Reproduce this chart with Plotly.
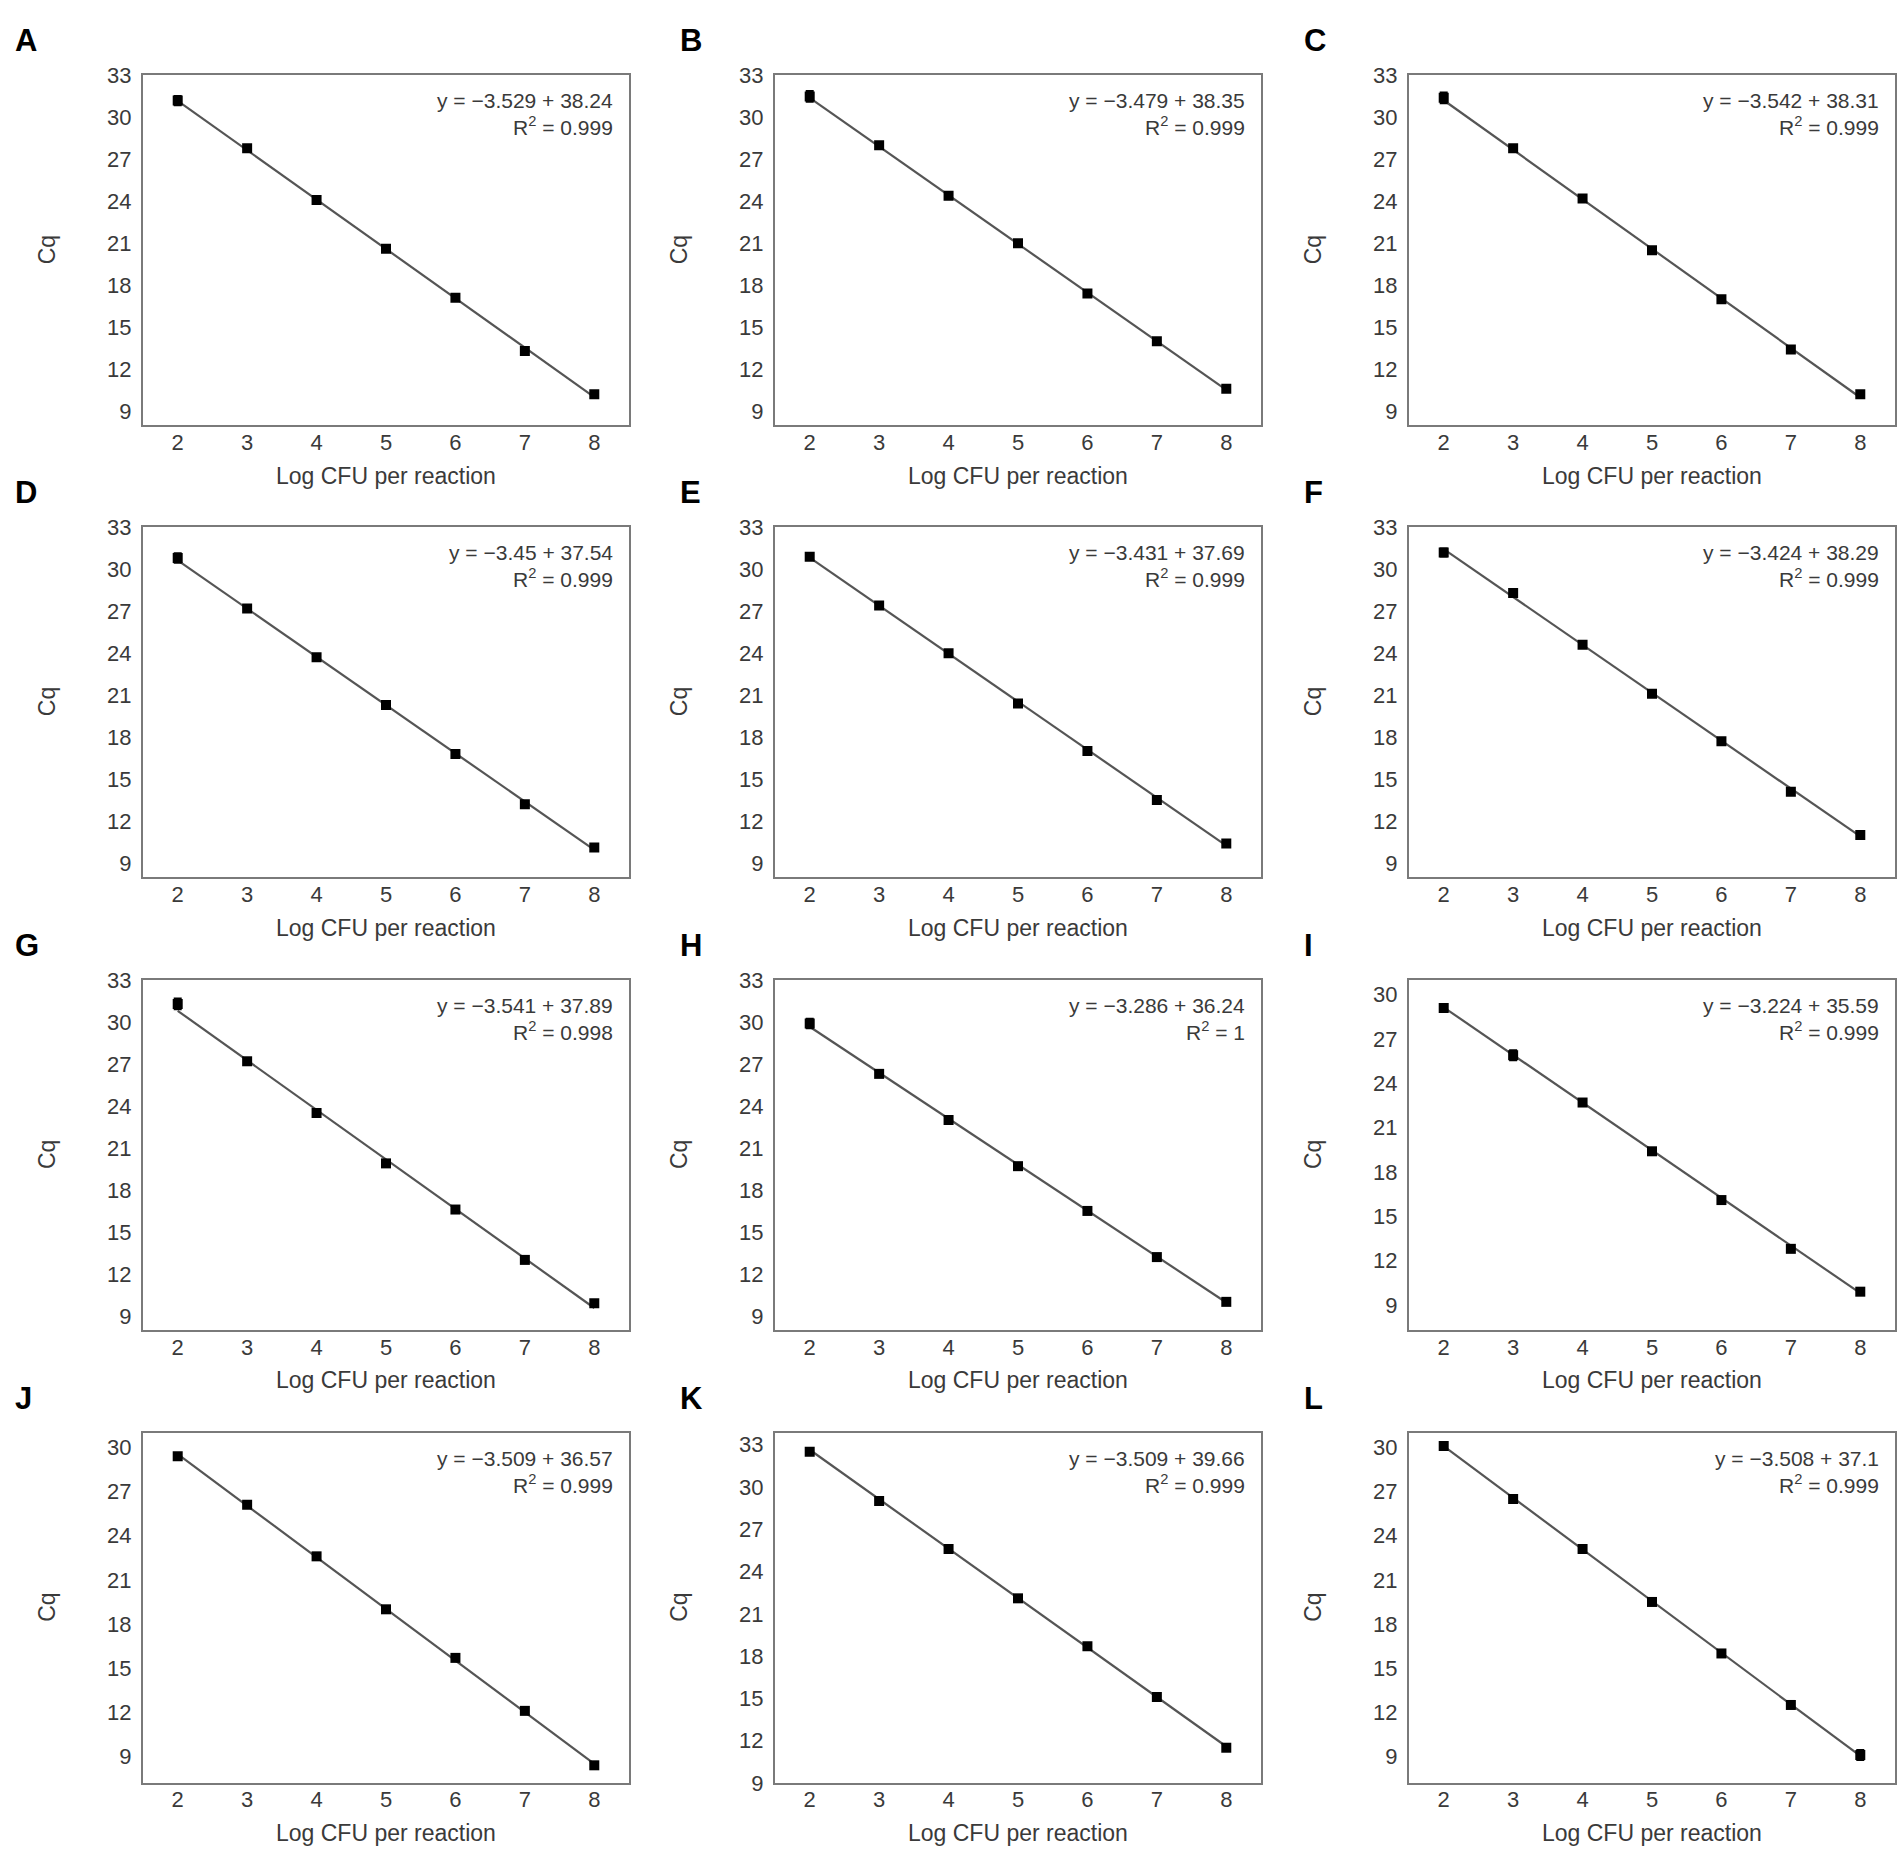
import plotly.graph_objects as go

W, H = 1904, 1867

# ---- data ----
log_cfu = [2, 3, 4, 5, 6, 7, 8]
panels = ["A", "B", "C", "D", "E", "F", "G", "H", "I", "J", "K", "L"]

cq_A = [31.2, 27.8, 24.1, 20.6, 17.1, 13.3, 10.2]
cq_B = [31.5, 28.0, 24.4, 21.0, 17.4, 14.0, 10.6]
cq_C = [31.4, 27.8, 24.2, 20.5, 17.0, 13.4, 10.2]
cq_D = [30.8, 27.2, 23.7, 20.3, 16.8, 13.2, 10.1]
cq_E = [30.9, 27.4, 24.0, 20.4, 17.0, 13.5, 10.4]
cq_F = [31.2, 28.3, 24.6, 21.1, 17.7, 14.1, 11.0]
cq_G = [31.3, 27.2, 23.5, 19.9, 16.6, 13.0, 9.9]
cq_H = [29.9, 26.3, 23.0, 19.7, 16.5, 13.2, 10.0]
cq_I = [29.1, 25.9, 22.7, 19.4, 16.1, 12.8, 9.9]
cq_J = [29.4, 26.1, 22.6, 19.0, 15.7, 12.1, 8.4]
cq_K = [32.5, 29.0, 25.6, 22.1, 18.7, 15.1, 11.5]
cq_L = [30.1, 26.5, 23.1, 19.5, 16.0, 12.5, 9.1]

sd_A = [0.3, 0.1, 0.1, 0.1, 0.1, 0.15, 0.1]
sd_B = [0.35, 0.1, 0.1, 0.1, 0.1, 0.1, 0.1]
sd_C = [0.35, 0.1, 0.1, 0.1, 0.1, 0.1, 0.1]
sd_D = [0.3, 0.1, 0.1, 0.1, 0.1, 0.1, 0.1]
sd_E = [0.1, 0.1, 0.1, 0.1, 0.1, 0.1, 0.1]
sd_F = [0.25, 0.15, 0.1, 0.1, 0.1, 0.1, 0.1]
sd_G = [0.35, 0.1, 0.1, 0.1, 0.1, 0.1, 0.1]
sd_H = [0.3, 0.1, 0.1, 0.1, 0.1, 0.1, 0.1]
sd_I = [0.1, 0.3, 0.1, 0.1, 0.1, 0.1, 0.1]
sd_J = [0.1, 0.1, 0.1, 0.1, 0.1, 0.1, 0.1]
sd_K = [0.1, 0.1, 0.1, 0.1, 0.1, 0.1, 0.1]
sd_L = [0.1, 0.1, 0.1, 0.1, 0.1, 0.1, 0.3]

cq_values = [cq_A, cq_B, cq_C, cq_D, cq_E, cq_F, cq_G, cq_H, cq_I, cq_J, cq_K, cq_L]
cq_sd = [sd_A, sd_B, sd_C, sd_D, sd_E, sd_F, sd_G, sd_H, sd_I, sd_J, sd_K, sd_L]

slopes = [-3.529, -3.479, -3.542, -3.45, -3.431, -3.424,
          -3.541, -3.286, -3.224, -3.509, -3.509, -3.508]
intercepts = [38.24, 38.35, 38.31, 37.54, 37.69, 38.29,
              37.89, 36.24, 35.59, 36.57, 39.66, 37.1]
r2 = ["0.999", "0.999", "0.999", "0.999", "0.999", "0.999",
      "0.998", "1", "0.999", "0.999", "0.999", "0.999"]

y_ranges = [[7.98, 33.02]] * 8 + [[7.3, 31.0], [7.2, 31.0], [9.0, 33.85], [7.2, 31.0]]

# ---- layout in pixels ----
col_left = [143, 775, 1409]
col_w = 486
row_top = [64, 522, 981, 1440]
row_h = 355
letter_x = [13, 678, 1302]

font_name = "Liberation Sans, Arial, sans-serif"
grey_txt = "#3a3a3a"


def px_x(x):
    return x / W


def px_y(y):
    return 1 - y / H


fig = go.Figure()
annotations = []

for i, name in enumerate(panels):
    r, c = divmod(i, 3)
    n = "" if i == 0 else str(i + 1)
    x0, x1 = col_left[c], col_left[c] + col_w
    y0, y1 = row_top[r], row_top[r] + row_h

    fit_x = [log_cfu[0], log_cfu[-1]]
    fit_y = [slopes[i] * v + intercepts[i] for v in fit_x]

    fig.add_trace(go.Scatter(
        x=fit_x, y=fit_y, mode="lines",
        line=dict(color="#555555", width=2.2),
        xaxis="x" + n, yaxis="y" + n, showlegend=False, hoverinfo="skip"))
    fig.add_trace(go.Scatter(
        x=log_cfu, y=cq_values[i], mode="markers",
        marker=dict(symbol="square", size=10, color="black"),
        error_y=dict(type="data", array=cq_sd[i], color="black",
                     thickness=3, width=4),
        xaxis="x" + n, yaxis="y" + n, showlegend=False))

    axis_common = dict(
        showline=True, mirror=True, linecolor="#7a7a7a", linewidth=2,
        showgrid=False, zeroline=False, ticks="",
        tickfont=dict(family=font_name, size=22, color=grey_txt))
    fig.update_layout({
        "xaxis" + n: dict(axis_common, domain=[px_x(x0), px_x(x1)],
                          range=[1.5, 8.5], tickmode="linear", tick0=2, dtick=1,
                          ticklabelstandoff=-4, anchor="y" + n),
        "yaxis" + n: dict(axis_common, domain=[px_y(y1), px_y(y0)],
                          range=y_ranges[i], tickmode="linear", tick0=0, dtick=3,
                          ticklabelstandoff=5, anchor="x" + n),
    })

    # panel letter
    annotations.append(dict(
        text="<b>%s</b>" % name, x=px_x(letter_x[c]), y=px_y(y0 - 35),
        xref="paper", yref="paper", xanchor="left", yanchor="middle",
        showarrow=False, font=dict(family=font_name, size=31, color="black")))
    # axis titles
    annotations.append(dict(
        text="Cq", x=px_x(x0 - 96), y=px_y((y0 + y1) / 2), textangle=-90,
        xref="paper", yref="paper", xanchor="center", yanchor="middle",
        showarrow=False, font=dict(family=font_name, size=23, color=grey_txt)))
    annotations.append(dict(
        text="Log CFU per reaction", x=px_x((x0 + x1) / 2), y=px_y(y1 + 51),
        xref="paper", yref="paper", xanchor="center", yanchor="middle",
        showarrow=False, font=dict(family=font_name, size=23, color=grey_txt)))
    # regression equation
    annotations.append(dict(
        text="y = \u2212%s + %s" % (str(abs(slopes[i])), str(intercepts[i])),
        x=px_x(x1 - 14), y=px_y(y0 + 26),
        xref="paper", yref="paper", xanchor="right", yanchor="middle",
        showarrow=False, font=dict(family=font_name, size=21, color=grey_txt)))
    annotations.append(dict(
        text="R<sup>2</sup> = %s" % r2[i],
        x=px_x(x1 - 14), y=px_y(y0 + 52),
        xref="paper", yref="paper", xanchor="right", yanchor="middle",
        showarrow=False, font=dict(family=font_name, size=21, color=grey_txt)))

fig.update_layout(
    width=W, height=H,
    margin=dict(l=0, r=0, t=0, b=0),
    paper_bgcolor="white", plot_bgcolor="white",
    annotations=annotations)

fig.write_html("out.html", config={"displayModeBar": False},
               post_script="document.body.style.margin='0';")
